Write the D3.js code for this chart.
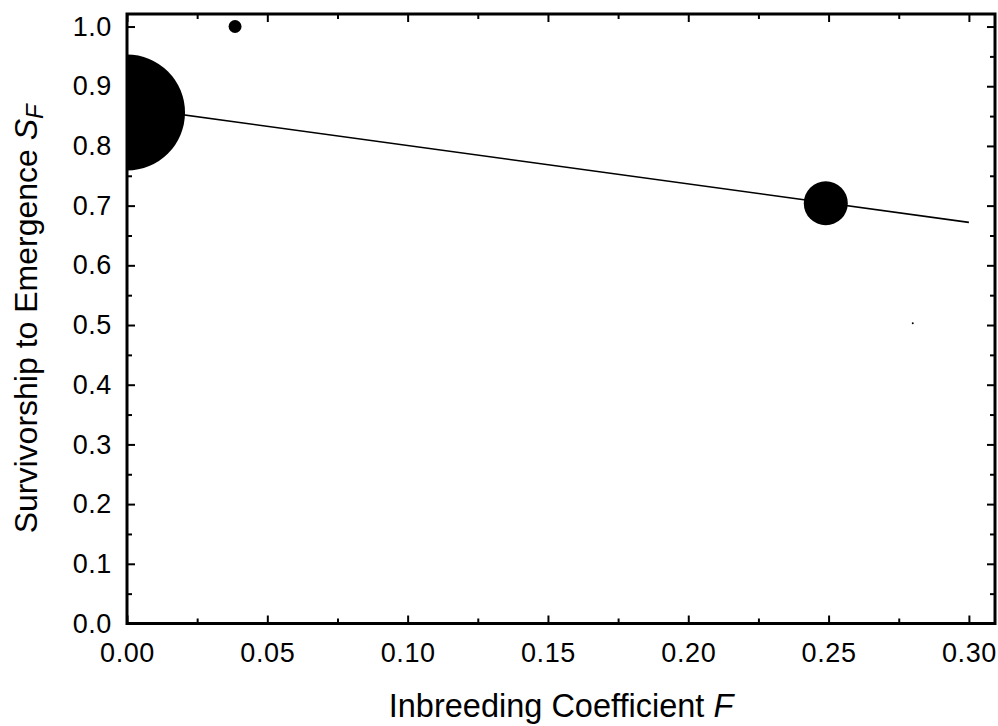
<!DOCTYPE html>
<html>
<head>
<meta charset="utf-8">
<script src="https://cdn.jsdelivr.net/npm/d3@7"></script>
<style>
  html, body { margin: 0; padding: 0; background: #fff; }
  svg { display: block; font-family: "Liberation Sans", Arial, sans-serif; }
</style>
</head>
<body>
<svg id="chart" width="998" height="726"></svg>
<script>
// ---- data ----
const inbreedingF = [0, 0.0385, 0.249, 0.280];
const survivorship = [0.856, 1.0, 0.704, 0.503];
const bubbleWeight = [3364, 42, 484, 1];   // relative bubble area
const fitF = [0, 0.30];
const fitS = [0.865, 0.672];
const xMajorTicks = [0, 0.05, 0.10, 0.15, 0.20, 0.25, 0.30];
const xMinorTicks = [0.025, 0.075, 0.125, 0.175, 0.225, 0.275];
const yMajorTicks = [0, 0.1, 0.2, 0.3, 0.4, 0.5, 0.6, 0.7, 0.8, 0.9, 1.0];
const yMinorTicks = [0.05, 0.15, 0.25, 0.35, 0.45, 0.55, 0.65, 0.75, 0.85, 0.95];

// ---- layout ----
const L = 127, R = 995, T = 14, B = 623.5;
const svg = d3.select("#chart");
const x = d3.scaleLinear().domain([0, 0.3093]).range([L, R]);
const y = d3.scaleLinear().domain([0, 1.021]).range([B, T]);
const r = d3.scaleSqrt().domain([0, d3.max(bubbleWeight)]).range([0, 58]);

svg.append("defs").append("clipPath").attr("id", "plotclip")
  .append("rect").attr("x", L).attr("y", T).attr("width", R - L).attr("height", B - T);

const plot = svg.append("g").attr("clip-path", "url(#plotclip)");

// regression line
plot.append("path")
  .datum(fitF.map((f, i) => [f, fitS[i]]))
  .attr("d", d3.line().x(d => x(d[0])).y(d => y(d[1])))
  .attr("fill", "none").attr("stroke", "#000").attr("stroke-width", 1.6);

// bubbles
plot.selectAll("circle.pt")
  .data(inbreedingF.map((f, i) => ({ f, s: survivorship[i], w: bubbleWeight[i] })))
  .join("circle").attr("class", "pt")
  .attr("cx", d => x(d.f)).attr("cy", d => y(d.s))
  .attr("r", d => Math.max(1, r(d.w)))
  .attr("fill", "#000");

// axes (ticks inward on all four sides)
const fontSize = 27;
function styleAxis(g, sw) {
  g.select(".domain").remove();
  g.selectAll(".tick line").attr("stroke", "#000").attr("stroke-width", sw);
  g.selectAll(".tick text").attr("fill", "#000").attr("font-size", fontSize)
    .attr("font-family", "'Liberation Sans', Arial, sans-serif").attr("letter-spacing", "0.6px");
}
// bottom
svg.append("g").attr("transform", `translate(0,${B})`)
  .call(d3.axisBottom(x).tickValues(xMajorTicks).tickFormat(d3.format(".2f")).tickSize(-8).tickPadding(19))
  .call(g => styleAxis(g, 2));
svg.append("g").attr("transform", `translate(0,${B})`)
  .call(d3.axisBottom(x).tickValues(xMinorTicks).tickFormat("").tickSize(-5))
  .call(g => styleAxis(g, 2));
// top
svg.append("g").attr("transform", `translate(0,${T})`)
  .call(d3.axisTop(x).tickValues(xMajorTicks).tickFormat("").tickSize(-8))
  .call(g => styleAxis(g, 2));
svg.append("g").attr("transform", `translate(0,${T})`)
  .call(d3.axisTop(x).tickValues(xMinorTicks).tickFormat("").tickSize(-5))
  .call(g => styleAxis(g, 2));
// left
svg.append("g").attr("transform", `translate(${L},0)`)
  .call(d3.axisLeft(y).tickValues(yMajorTicks).tickFormat(d3.format(".1f")).tickSize(-8).tickPadding(15))
  .call(g => styleAxis(g, 2));
svg.append("g").attr("transform", `translate(${L},0)`)
  .call(d3.axisLeft(y).tickValues(yMinorTicks).tickFormat("").tickSize(-5))
  .call(g => styleAxis(g, 2));
// right
svg.append("g").attr("transform", `translate(${R},0)`)
  .call(d3.axisRight(y).tickValues(yMajorTicks).tickFormat("").tickSize(-8))
  .call(g => styleAxis(g, 2));
svg.append("g").attr("transform", `translate(${R},0)`)
  .call(d3.axisRight(y).tickValues(yMinorTicks).tickFormat("").tickSize(-5))
  .call(g => styleAxis(g, 2));

// frame
svg.append("rect").attr("x", L).attr("y", T).attr("width", R - L).attr("height", B - T)
  .attr("fill", "none").attr("stroke", "#000").attr("stroke-width", 3);

// axis titles
const xt = svg.append("text")
  .attr("x", (L + R) / 2).attr("y", 717).attr("text-anchor", "middle")
  .attr("font-size", 32.5).attr("fill", "#000");
xt.append("tspan").text("Inbreeding Coefficient ");
xt.append("tspan").attr("font-style", "italic").text("F");

const yt = svg.append("text")
  .attr("transform", `translate(37,${(T + B) / 2}) rotate(-90)`)
  .attr("text-anchor", "middle").attr("font-size", 32).attr("fill", "#000");
yt.append("tspan").text("Survivorship to Emergence ");
yt.append("tspan").attr("font-style", "italic").text("S");
yt.append("tspan").attr("font-style", "italic").attr("font-size", 24).attr("dy", 6).text("F");
</script>
</body>
</html>
